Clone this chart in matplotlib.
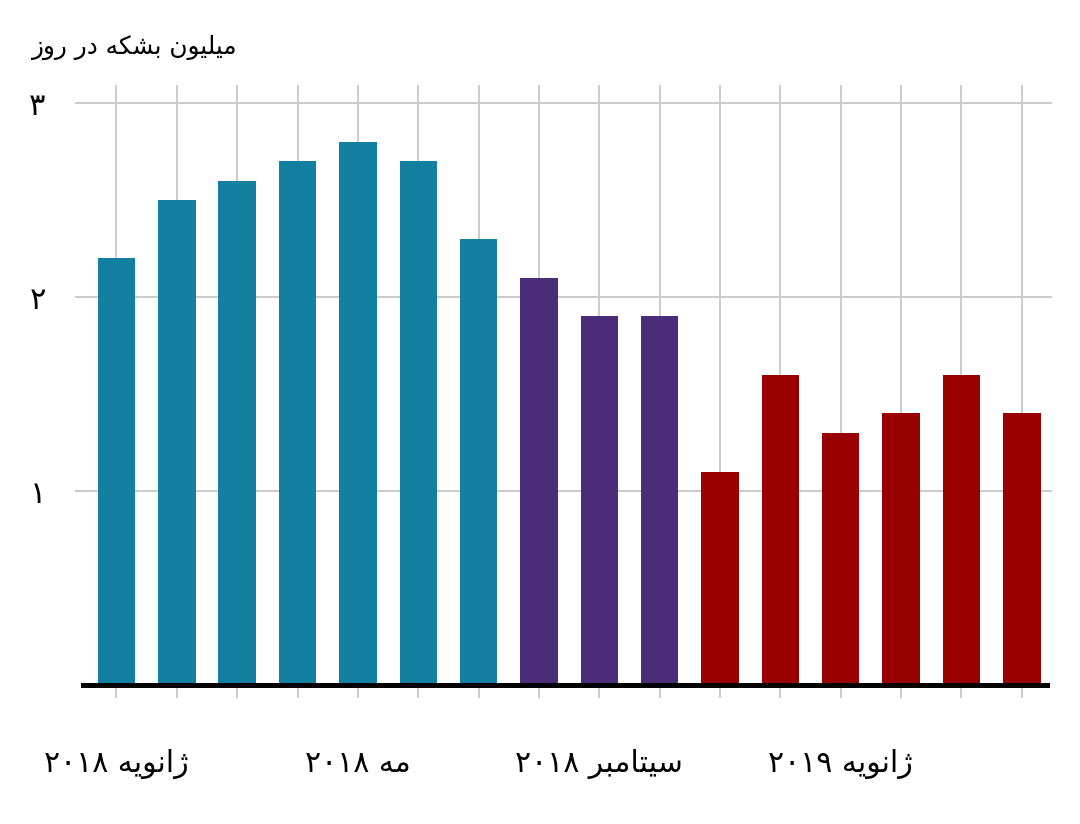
import re
import matplotlib
matplotlib.use("Agg")
import matplotlib.pyplot as plt
import numpy as np

# monthly values, Jan 2018 .. Apr 2019 (million barrels per day)
values = [2.2, 2.5, 2.6, 2.7, 2.8, 2.7, 2.3, 2.1, 1.9, 1.9,
          1.1, 1.6, 1.3, 1.4, 1.6, 1.4]
groups = [0] * 7 + [1] * 3 + [2] * 6
group_colors = ["#1380a1", "#4b2c78", "#990000"]
label_pos = [0, 4, 8, 12]
label_text = ["ژانویه ۲۰۱۸", "مه ۲۰۱۸", "سیتامبر ۲۰۱۸", "ژانویه ۲۰۱۹"]
ytick_vals = [1, 2, 3]
ytick_text = ["۱", "۲", "۳"]
title = "میلیون بشکه در روز"

# matplotlib does no arabic shaping / bidi, so do it by hand
# isolated, final, initial, medial
FORMS = {
    "ا": ("\uFE8D", "\uFE8E", None, None),
    "ب": ("\uFE8F", "\uFE90", "\uFE91", "\uFE92"),
    "پ": ("\uFB56", "\uFB57", "\uFB58", "\uFB59"),
    "ت": ("\uFE95", "\uFE96", "\uFE97", "\uFE98"),
    "د": ("\uFEA9", "\uFEAA", None, None),
    "ر": ("\uFEAD", "\uFEAE", None, None),
    "ز": ("\uFEAF", "\uFEB0", None, None),
    "ژ": ("\uFB8A", "\uFB8B", None, None),
    "س": ("\uFEB1", "\uFEB2", "\uFEB3", "\uFEB4"),
    "ش": ("\uFEB5", "\uFEB6", "\uFEB7", "\uFEB8"),
    "ک": ("\uFB8E", "\uFB8F", "\uFB90", "\uFB91"),
    "ل": ("\uFEDD", "\uFEDE", "\uFEDF", "\uFEE0"),
    "م": ("\uFEE1", "\uFEE2", "\uFEE3", "\uFEE4"),
    "ن": ("\uFEE5", "\uFEE6", "\uFEE7", "\uFEE8"),
    "ه": ("\uFEE9", "\uFEEA", "\uFEEB", "\uFEEC"),
    "و": ("\uFEED", "\uFEEE", None, None),
    "ی": ("\uFBFC", "\uFBFD", "\uFBFE", "\uFBFF"),
}


def shape(word):
    out = []
    for i, c in enumerate(word):
        f = FORMS.get(c)
        if f is None:
            out.append(c)
            continue
        prev = word[i - 1] if i > 0 else ""
        nxt = word[i + 1] if i + 1 < len(word) else ""
        jp = prev in FORMS and FORMS[prev][2] is not None
        jn = nxt in FORMS and f[2] is not None
        if jp and jn:
            out.append(f[3])
        elif jp:
            out.append(f[1])
        elif jn:
            out.append(f[2])
        else:
            out.append(f[0])
    return "".join(out)


def rtl(text):
    runs = re.findall(r"[۰-۹]+|[^۰-۹]+", text)
    vis = []
    for r in reversed(runs):
        if re.fullmatch(r"[۰-۹]+", r):
            vis.append(r)
        else:
            vis.append(shape(r)[::-1])
    return "".join(vis)


plt.rcParams["font.family"] = ["DejaVu Sans"]

fig = plt.figure(figsize=(10.8, 8.24), dpi=100)
ax = fig.add_axes([75 / 1080, 139 / 824, 977 / 1080, 600 / 824])

x = np.arange(len(values))
colors = [group_colors[g] for g in groups]
ax.bar(x, values, width=0.62, color=colors, zorder=2)

ax.set_xlim(-0.687, 15.5)
ax.set_ylim(0, 3.093)

ax.set_xticks(x)
xl = [""] * len(values)
for p, t in zip(label_pos, label_text):
    xl[p] = rtl(t)
ax.set_xticklabels(xl, fontsize=21.5)
ax.set_yticks(ytick_vals)
ax.set_yticklabels([rtl(t) for t in ytick_text], fontsize=22)

ax.grid(True, color="#cbcbcb", linewidth=1.4, zorder=0)
ax.tick_params(axis="x", length=9, width=1.4, color="#cbcbcb", pad=37)
ax.tick_params(axis="y", length=0, pad=21)

for s in ax.spines.values():
    s.set_visible(False)
ax.axhline(0, xmin=0.008, xmax=0.995, color="black", linewidth=3.6, zorder=3,
           clip_on=False)

fig.text(237 / 1080, 1 - 47 / 824, rtl(title), fontsize=17.8, ha="right",
         va="center")

fig.savefig("out.png", dpi=100)
